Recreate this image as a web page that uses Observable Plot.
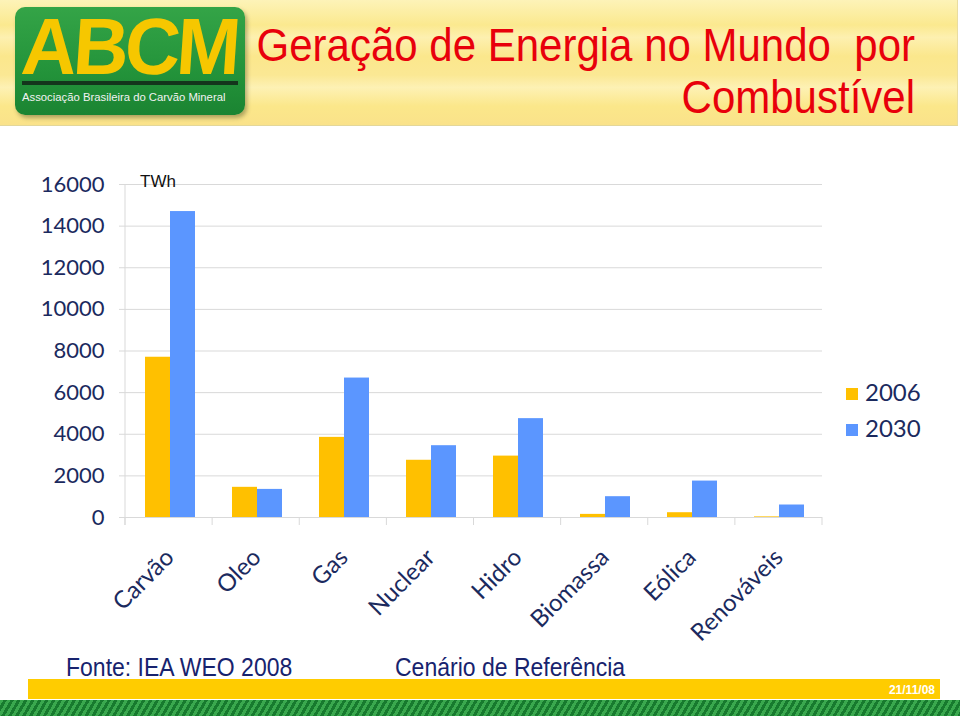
<!DOCTYPE html>
<html>
<head>
<meta charset="utf-8">
<script src="https://cdn.jsdelivr.net/npm/d3@7"></script>
<script src="https://cdn.jsdelivr.net/npm/@observablehq/plot@0.6"></script>
<style>
  html, body { margin:0; padding:0; width:960px; height:716px; overflow:hidden; background:#fff; }
  #page { position:relative; width:960px; height:716px; font-family:"Liberation Sans", Arial, sans-serif; }
  #header { position:absolute; left:0; top:0; width:957px; height:125px;
    background: linear-gradient(180deg, #fdf3b8 0%, #fbe98f 20%, #fdf0b0 30%, #fbe78c 45%, #fbe894 60%, #fdf1b4 70%, #fbe78a 85%, #fae28a 100%);
    border-right:1px solid #e9dca0; border-bottom:1px solid #e3d79a; }
  #logo { position:absolute; left:15px; top:7px; width:230px; height:108px; border-radius:10px;
    background: linear-gradient(180deg, #34a447 0%, #23933a 60%, #1b8432 100%);
    box-shadow: 2px 3px 4px rgba(80,80,40,0.45); }
  #logo .abcm { position:absolute; left:9px; top:9px; height:62px; font-family:"Liberation Sans", Arial, sans-serif; font-weight:bold;
    font-size:80px; line-height:62px; letter-spacing:-4px; color:#f6c700; transform:scaleX(0.96) skewX(-4deg); transform-origin:left top; white-space:nowrap; }
  #logo .bar { position:absolute; left:7px; top:74px; width:216px; height:4px; background:#14351c; }
  #logo .sub { position:absolute; left:7px; top:84px; font-size:11.3px; line-height:13px; color:#f2f2f2; white-space:nowrap; }
  #title { position:absolute; right:42px; top:20px; text-align:right; color:#e8000b; font-size:42px; line-height:48px;
    white-space:pre; transform:scaleY(1.08); transform-origin:right top; }
  #chart { position:absolute; left:0; top:160px; }
  #twh { position:absolute; left:140px; top:172px; font-size:17px; color:#111; }
  .leg { position:absolute; left:846px; font-family:Lato, sans-serif; font-size:24px; color:#1b2a5e; line-height:24px; }
  .leg span.sw { display:inline-block; width:12px; height:12px; margin-right:7px; vertical-align:1px; }
  #fonte { position:absolute; left:66px; top:652px; font-size:23px; color:#17236e; transform:scaleY(1.12); transform-origin:left top; white-space:nowrap; }
  #cenario { position:absolute; left:395px; top:652px; font-size:23px; color:#17236e; transform:scaleY(1.12); transform-origin:left top; white-space:nowrap; }
  #ybar { position:absolute; left:28px; top:679px; width:912px; height:20px; background:#ffcc00; }
  #ybar span { position:absolute; right:5px; top:4px; color:#fff; font-weight:bold; font-size:12px; }
  #gbar { position:absolute; left:0; top:700px; width:960px; height:16px;
    background: repeating-linear-gradient(120deg, #3aa84e 0px, #3aa84e 3px, #177a2e 3px, #177a2e 6px); }
</style>
</head>
<body>
<div id="page">
  <div id="header">
    <div id="logo">
      <div class="abcm">ABCM</div>
      <div class="bar"></div>
      <div class="sub">Associação Brasileira do Carvão Mineral</div>
    </div>
    <div id="title">Geração de Energia no Mundo  por
Combustível</div>
  </div>
  <div id="chart"></div>
  <div id="twh">TWh</div>
  <div class="leg" style="top:380px"><span class="sw" style="background:#ffc000"></span>2006</div>
  <div class="leg" style="top:416px"><span class="sw" style="background:#5b96ff"></span>2030</div>
  <div id="fonte">Fonte: IEA WEO 2008</div>
  <div id="cenario">Cenário de Referência</div>
  <div id="ybar"><span>21/11/08</span></div>
  <div id="gbar"></div>
</div>
<script>
const categories = ["Carvão","Oleo","Gas","Nuclear","Hidro","Biomassa","Eólica","Renováveis"];
const years = ["2006","2030"];
const values2006 = [7700, 1450, 3850, 2750, 2950, 150, 230, 30];
const values2030 = [14700, 1350, 6700, 3450, 4750, 1000, 1750, 600];
const yTicks = [0, 2000, 4000, 6000, 8000, 10000, 12000, 14000, 16000];
const colors = ["#ffc000", "#5b96ff"];

const rows = categories.flatMap((c, i) => [
  {cat: c, year: years[0], value: values2006[i]},
  {cat: c, year: years[1], value: values2030[i]}
]);

const chart = Plot.plot({
  width: 830,
  height: 480,
  marginLeft: 125,
  marginRight: 8,
  marginTop: 24,
  marginBottom: 123,
  style: {fontFamily: "Lato, sans-serif", fontSize: "22px", color: "#1b2a5e", background: "transparent", overflow: "visible"},
  facet: {data: rows, x: "cat"},
  fx: {domain: categories, padding: 0, axis: "bottom", tickRotate: -45, tickSize: 0, tickPadding: 36, label: null},
  x: {domain: years, paddingInner: 0, paddingOuter: 0.74, axis: null},
  y: {domain: [0, 16000], ticks: yTicks, tickSize: 7, tickPadding: 15, label: null, tickFormat: d3.format("d")},
  color: {domain: years, range: colors},
  marks: [
    Plot.ruleY(yTicks, {stroke: "#d9d9d9"}),
    Plot.barY(rows, {x: "year", y: "value", fill: "year"})
  ]
});
document.getElementById("chart").appendChild(chart);

const svg = d3.select(chart);
// style y tick marks grey, enlarge category labels
svg.selectAll('[aria-label^="y-axis"] line, [aria-label^="y-axis"] path').attr("stroke", "#d9d9d9");
svg.selectAll('[aria-label^="fx-axis"] text').style("font-size", "24px");

// axis line and category boundary ticks, from the plot's own scales
const fxS = chart.scale("fx");
const yS = chart.scale("y");
const yF = yS.apply ? (v => yS.apply(v)) : d3.scaleLinear(yS.domain, yS.range);
const band = d3.scaleBand(fxS.domain, fxS.range).paddingInner(fxS.paddingInner || 0).paddingOuter(fxS.paddingOuter || 0);
const y0 = yF(0), yTop = yF(d3.max(yTicks));
const g = svg.append("g").attr("stroke", "#d9d9d9");
g.append("line").attr("x1", fxS.range[0]).attr("x2", fxS.range[0]).attr("y1", yTop).attr("y2", y0 + 8);
const bounds = categories.map(c => band(c)).concat([band(categories[categories.length - 1]) + band.bandwidth()]);
g.selectAll("line.b").data(bounds).join("line").attr("class", "b")
  .attr("x1", d => d).attr("x2", d => d).attr("y1", y0).attr("y2", y0 + 8);
</script>
</body>
</html>
